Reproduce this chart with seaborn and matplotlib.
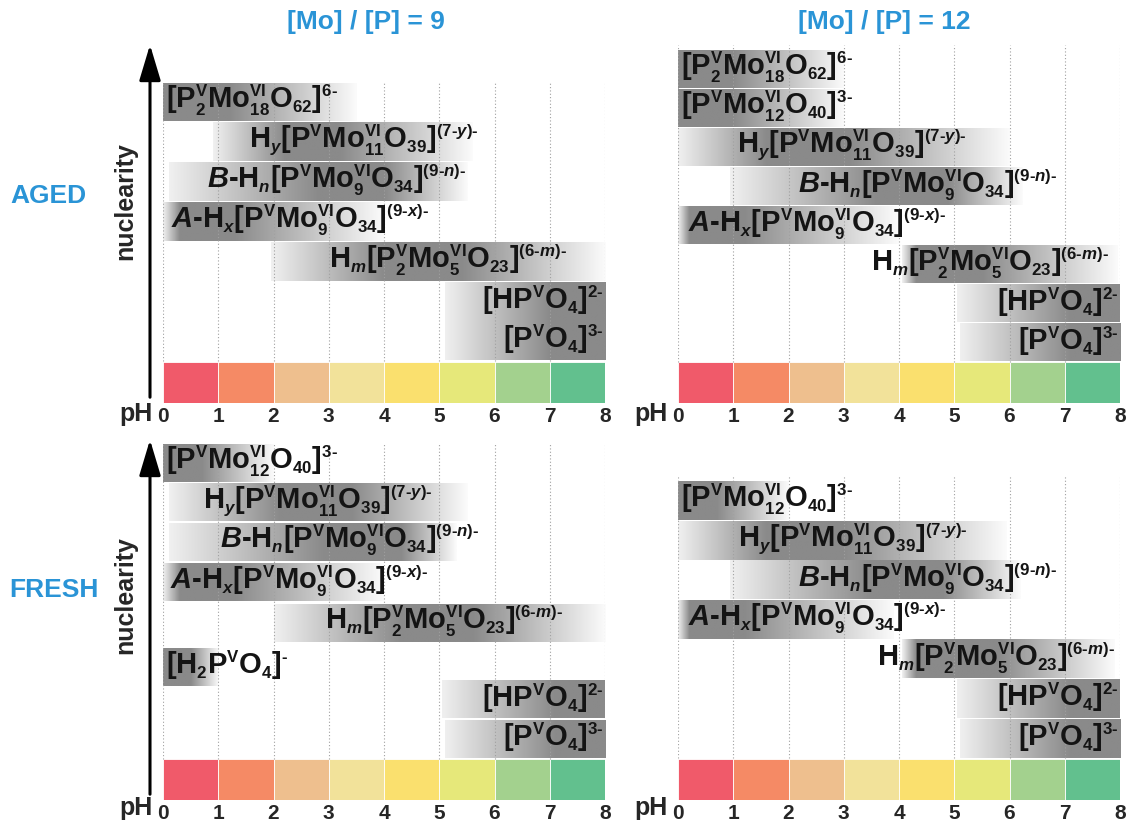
import numpy as np
import matplotlib.pyplot as plt
import matplotlib.patches as mpatches
import matplotlib._mathtext as mathtext_core
from matplotlib.colors import LinearSegmentedColormap
import seaborn as sns

# smaller sub/superscripts, like the original drawing
mathtext_core.SHRINK_FACTOR = 0.58

# pH colour strip
ph_mid = [0.5, 1.5, 2.5, 3.5, 4.5, 5.5, 6.5, 7.5]
ph_bins = ['0-1', '1-2', '2-3', '3-4', '4-5', '5-6', '6-7', '7-8']
ph_colors = ['#f05a6a', '#f58a65', '#eebf8e', '#f2e29a',
             '#fae06e', '#e6e87a', '#a3d18e', '#62c08e']

# species labels (U+2010 hyphen keeps the dashes short)
LBL = {
    'P2Mo18': r'$\mathbf{[P^{V}_{2}Mo^{VI}_{18}O_{62}]^{6‐}}$',
    'PMo12': r'$\mathbf{[P^{V}Mo^{VI}_{12}O_{40}]^{3‐}}$',
    'PMo11': r'$\mathbf{H_{\mathit{y}}[P^{V}Mo^{VI}_{11}O_{39}]^{(7‐\mathit{y})‐}}$',
    'B': r'$\mathit{B}\mathbf{‐H_{\mathit{n}}[P^{V}Mo^{VI}_{9}O_{34}]^{(9‐\mathit{n})‐}}$',
    'A': r'$\mathit{A}\mathbf{‐H_{\mathit{x}}[P^{V}Mo^{VI}_{9}O_{34}]^{(9‐\mathit{x})‐}}$',
    'P2Mo5': r'$\mathbf{H_{\mathit{m}}[P^{V}_{2}Mo^{VI}_{5}O_{23}]^{(6‐\mathit{m})‐}}$',
    'H2PO4': r'$\mathbf{[H_{2}P^{V}O_{4}]^{‐}}$',
    'HPO4': r'$\mathbf{[HP^{V}O_{4}]^{2‐}}$',
    'PO4': r'$\mathbf{[P^{V}O_{4}]^{3‐}}$',
}

# aged, [Mo]/[P] = 9
tl_species = ['P2Mo18', 'PMo11', 'B', 'A', 'P2Mo5', 'HPO4', 'PO4']
tl_row = [6, 5, 4, 3, 2, 1, 0]
tl_start = [0, 0.9, 0.1, 0, 1.95, 5.1, 5.1]
tl_end = [3.5, 5.6, 5.5, 4.0, 8.0, 8, 8]
tl_dark_lo = [0, 2.2, 2.8, 0.3, 4.0, 7.0, 7.0]
tl_dark_hi = [1.2, 3.2, 4.0, 1.3, 5.4, 8, 8]
tl_text_x = [0.05, 1.55, 0.8, 0.15, 3.0, 7.98, 7.98]

# aged, [Mo]/[P] = 12
tr_species = ['P2Mo18', 'PMo12', 'PMo11', 'B', 'A', 'P2Mo5', 'HPO4', 'PO4']
tr_row = [7, 6, 5, 4, 3, 2, 1, 0]
tr_start = [0, 0, 0, 0.95, 0, 4.05, 5.05, 5.1]
tr_end = [3.0, 3.0, 6.0, 6.25, 4.0, 7.95, 8, 8]
tr_dark_lo = [0, 0, 1.6, 3.6, 0.2, 4.3, 7.1, 7.1]
tr_dark_hi = [1.0, 1.0, 3.1, 4.9, 1.2, 5.5, 8, 8]
tr_text_x = [0.05, 0.05, 1.07, 2.17, 0.18, 3.5, 7.98, 7.98]

# fresh, [Mo]/[P] = 9
bl_species = ['PMo12', 'PMo11', 'B', 'A', 'P2Mo5', 'H2PO4', 'HPO4', 'PO4']
bl_row = [7.0, 6.0, 5.0, 3.97, 2.95, 1.83, 1, 0]
bl_start = [0, 0.1, 0.1, 0, 2.0, 0, 5.05, 5.1]
bl_end = [2.0, 5.5, 5.3, 4.0, 8.0, 1.0, 8, 8]
bl_dark_lo = [0, 2.1, 2.9, 0.3, 4.3, 0, 7.1, 7.1]
bl_dark_hi = [0.7, 3.4, 4.3, 1.3, 5.6, 0.5, 8, 8]
bl_text_x = [0.05, 0.73, 1.03, 0.13, 2.93, 0.05, 7.98, 7.98]

# fresh, [Mo]/[P] = 12
br_species = ['PMo12', 'PMo11', 'B', 'A', 'P2Mo5', 'HPO4', 'PO4']
br_row = [6, 5, 4, 3, 2, 1, 0]
br_start = [0, 0, 0.95, 0, 4.05, 5.05, 5.1]
br_end = [2.0, 5.95, 6.2, 3.9, 7.9, 8, 8]
br_dark_lo = [0, 1.6, 3.5, 0.2, 4.3, 7.1, 7.1]
br_dark_hi = [0.7, 3.0, 4.8, 1.2, 5.8, 8, 8]
br_text_x = [0.05, 1.08, 2.17, 0.18, 3.6, 7.98, 7.98]

BLUE = '#2a94d6'
DARK = '#8a8a8a'
LIGHT = '#f0f0f0'
W, H = 1129, 824
BASE = 1.07   # rows start above the colour strip
BAR_H = 0.96

sns.set_style('white')
plt.rcParams['font.family'] = ['Liberation Sans', 'DejaVu Sans']
plt.rcParams.update({
    'mathtext.fontset': 'custom',
    'mathtext.rm': 'Liberation Sans:bold',
    'mathtext.bf': 'Liberation Sans:bold',
    'mathtext.it': 'Liberation Sans:italic:bold',
    'mathtext.bfit': 'Liberation Sans:italic:bold',
    'mathtext.sf': 'Liberation Sans:bold',
})

fig = plt.figure(figsize=(W / 100, H / 100), dpi=100)


def px_axes(left, right, top, bottom):
    return fig.add_axes([left / W, 1 - bottom / H, (right - left) / W, (bottom - top) / H])


def bar_cmap(s, e, lo, hi):
    span = e - s
    p_lo = (lo - s) / span
    p_hi = (hi - s) / span
    stops = [(0.0, DARK if p_lo <= 0 else LIGHT)]
    if 0 < p_lo < 1:
        stops.append((p_lo, DARK))
    if 0 < p_hi < 1 and p_hi > p_lo:
        stops.append((p_hi, DARK))
    stops.append((1.0, DARK if p_hi >= 1 else '#fbfbfb'))
    return LinearSegmentedColormap.from_list('g', stops)


def draw_panel(ax, species, rows, start, end, dark_lo, dark_hi, text_x, ytop):
    sns.barplot(x=ph_mid, y=[BASE - 0.03] * len(ph_mid), hue=ph_bins, palette=ph_colors,
                native_scale=True, width=1, dodge=False, legend=False, errorbar=None,
                saturation=1, edgecolor='white', linewidth=0.6, ax=ax, zorder=1)
    grad = np.linspace(0, 1, 256)[None, :]
    for sp, r, s, e, lo, hi, tx in zip(species, rows, start, end, dark_lo, dark_hi, text_x):
        y0 = BASE + r
        ax.imshow(grad, cmap=bar_cmap(s, e, lo, hi), extent=(s, e, y0, y0 + BAR_H),
                  aspect='auto', interpolation='bilinear', zorder=2)
        ha = 'right' if tx > 7.5 else 'left'
        ax.text(tx, y0 + BAR_H / 2 + 0.04, LBL[sp], ha=ha, va='center', fontsize=21,
                color='#141414', zorder=6)
    ax.vlines(range(9), BASE - 0.02, ytop, colors='#a0a0a0', linestyles=(0, (1, 2)),
              linewidth=0.8, zorder=4)
    ax.set_xlim(0, 8)
    ax.set_ylim(0, ytop)
    ax.set_xticks(range(9))
    ax.set_xticklabels([str(i) for i in range(9)], fontsize=15, fontweight='bold')
    ax.set_yticks([])
    ax.set_xlabel('')
    ax.set_ylabel('')
    ax.tick_params(axis='x', length=0, pad=3)
    for s in ax.spines.values():
        s.set_visible(False)


ax_tl = px_axes(163, 605, 83, 403)
draw_panel(ax_tl, tl_species, tl_row, tl_start, tl_end, tl_dark_lo, tl_dark_hi, tl_text_x, 8.03)
ax_tr = px_axes(678, 1120, 45, 403)
draw_panel(ax_tr, tr_species, tr_row, tr_start, tr_end, tr_dark_lo, tr_dark_hi, tr_text_x, 9.16)
ax_bl = px_axes(163, 605, 444, 800)
draw_panel(ax_bl, bl_species, bl_row, bl_start, bl_end, bl_dark_lo, bl_dark_hi, bl_text_x, 9.03)
ax_br = px_axes(678, 1120, 476, 800)
draw_panel(ax_br, br_species, br_row, br_start, br_end, br_dark_lo, br_dark_hi, br_text_x, 8.18)

# nuclearity arrows
for y_bot, y_top, y_txt in [(400, 42, 201), (797, 437, 595)]:
    fig.add_artist(mpatches.FancyArrowPatch((150 / W, 1 - y_bot / H), (150 / W, 1 - y_top / H),
                                            transform=fig.transFigure,
                                            arrowstyle='-|>,head_width=0.3,head_length=1.0',
                                            mutation_scale=22, lw=2.2, color='black'))
    fig.text(125 / W, 1 - y_txt / H, 'nuclearity', rotation=90, ha='center', va='center',
             fontsize=18, fontweight='bold')

# pH labels
for x_px, y_px in [(153, 414), (668, 414), (153, 808), (668, 808)]:
    fig.text(x_px / W, 1 - y_px / H, 'pH', ha='right', va='center', fontsize=18, fontweight='bold')

fig.text(366 / W, 1 - 22 / H, '[Mo] / [P] = 9', ha='center', va='center',
         fontsize=19, fontweight='bold', color=BLUE)
fig.text(884 / W, 1 - 22 / H, '[Mo] / [P] = 12', ha='center', va='center',
         fontsize=19, fontweight='bold', color=BLUE)
fig.text(48 / W, 1 - 196 / H, 'AGED', ha='center', va='center',
         fontsize=19, fontweight='bold', color=BLUE)
fig.text(54 / W, 1 - 590 / H, 'FRESH', ha='center', va='center',
         fontsize=19, fontweight='bold', color=BLUE)

fig.savefig('out.png', dpi=100, facecolor='white')
